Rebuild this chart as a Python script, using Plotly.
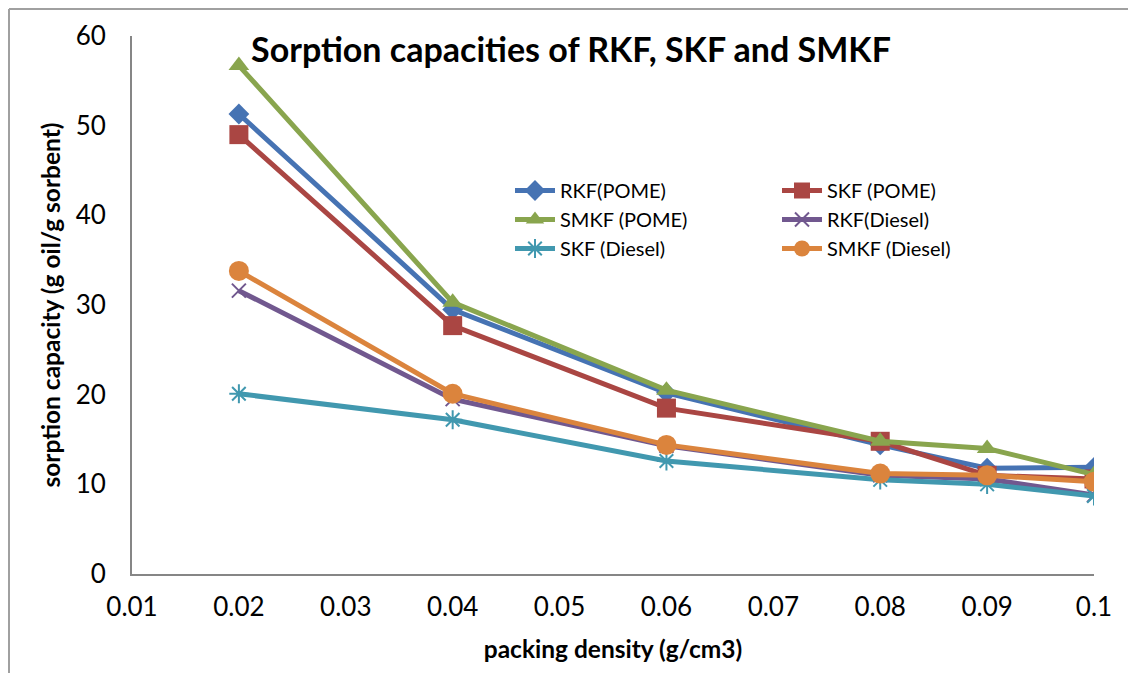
import plotly.graph_objects as go

# ---- data ----
packing_density = [0.02, 0.04, 0.06, 0.08, 0.09, 0.1]
rkf_pome = [51.3, 29.5, 20.2, 14.4, 11.8, 11.9]
skf_pome = [49.0, 27.7, 18.5, 14.8, 11.0, 10.6]
smkf_pome = [56.7, 30.3, 20.5, 14.8, 14.0, 11.1]
rkf_diesel = [31.6, 19.5, 14.3, 11.0, 10.6, 8.8]
skf_diesel = [20.1, 17.2, 12.6, 10.5, 10.0, 8.7]
smkf_diesel = [33.8, 20.1, 14.4, 11.2, 11.0, 10.3]

x_ticks = [0.01, 0.02, 0.03, 0.04, 0.05, 0.06, 0.07, 0.08, 0.09, 0.1]
x_tick_labels = ["0.01", "0.02", "0.03", "0.04", "0.05", "0.06", "0.07", "0.08", "0.09", "0.1"]
y_ticks = [0, 10, 20, 30, 40, 50, 60]

series = [
    ("RKF(POME)", rkf_pome, "#4673B3", "diamond", 16, "legend"),
    ("SKF (POME)", skf_pome, "#AA4643", "square", 19, "legend2"),
    ("SMKF (POME)", smkf_pome, "#89A54E", "triangle-up", 18, "legend"),
    ("RKF(Diesel)", rkf_diesel, "#71588F", "x-thin-open", 14, "legend2"),
    ("SKF (Diesel)", skf_diesel, "#4198AF", "asterisk-open", 16, "legend"),
    ("SMKF (Diesel)", smkf_diesel, "#DB843D", "circle", 20, "legend2"),
]

FONT = "Lato, 'Open Sans', sans-serif"
# page body has an 8px margin, so the figure sits at (8, 8) in the window
OFF = 8
W, H = 1136 - OFF, 675 - OFF
ML, MR, MT, MB = 132 - OFF, 42, 36 - OFF, 101

fig = go.Figure()
for name, vals, color, sym, size, lg in series:
    marker = dict(symbol=sym, size=size, color=color)
    if sym.endswith("-open"):
        marker["line"] = dict(color=color, width=2)
    else:
        marker["line"] = dict(width=0)
    fig.add_trace(go.Scatter(
        x=packing_density, y=vals, name=name, mode="lines+markers",
        line=dict(color=color, width=5), marker=marker, legend=lg,
    ))

pw = W - ML - MR
ph = H - MT - MB
def px_x(p):
    return (p - OFF - ML) / pw
def px_y(p):
    return (H - MB - (p - OFF)) / ph

legend_common = dict(
    font=dict(family=FONT, size=20, color="black"),
    bgcolor="rgba(0,0,0,0)", yanchor="top", xanchor="left",
    orientation="v", traceorder="normal", itemwidth=40,
)

fig.update_layout(
    width=W, height=H,
    margin=dict(l=ML, r=MR, t=MT, b=MB),
    paper_bgcolor="white", plot_bgcolor="white",
    font=dict(family=FONT, color="black"),
    title=dict(
        text="<b>Sorption capacities of RKF, SKF and SMKF</b>",
        font=dict(family=FONT, size=34, color="black"),
        x=(571 - OFF) / W, xanchor="center", y=1 - (50 - OFF) / H, yanchor="middle",
    ),
    legend=dict(x=px_x(510), y=px_y(171), **legend_common),
    legend2=dict(x=px_x(777), y=px_y(171), **legend_common),
    xaxis=dict(
        range=[0.01, 0.1], tickvals=x_ticks, ticktext=x_tick_labels,
        showgrid=False, zeroline=False, showline=True, linecolor="#868686", linewidth=2,
        ticks="", tickfont=dict(family=FONT, size=26, color="black"),
        ticklabelstandoff=9, automargin=False,
        title=dict(text="<b>packing density (g/cm3)</b>", font=dict(family=FONT, size=24.5, color="black"), standoff=20),
    ),
    yaxis=dict(
        range=[0, 60], tickvals=y_ticks,
        showgrid=False, zeroline=False, showline=True, linecolor="#868686", linewidth=2,
        ticks="", tickfont=dict(family=FONT, size=26, color="black"),
        ticklabelstandoff=19, automargin=False,
        title=dict(text="<b>sorption capacity (g oil/g sorbent)</b>", font=dict(family=FONT, size=24.5, color="black"), standoff=8),
    ),
    shapes=[
        dict(type="line", xref="paper", yref="paper", x0=px_x(9), x1=px_x(1136), y0=px_y(9), y1=px_y(9),
             line=dict(color="#A0A0A0", width=2)),
        dict(type="line", xref="paper", yref="paper", x0=px_x(9), x1=px_x(9), y0=px_y(9), y1=px_y(673),
             line=dict(color="#A0A0A0", width=2)),
    ],
)

fig.write_html("out.html")
